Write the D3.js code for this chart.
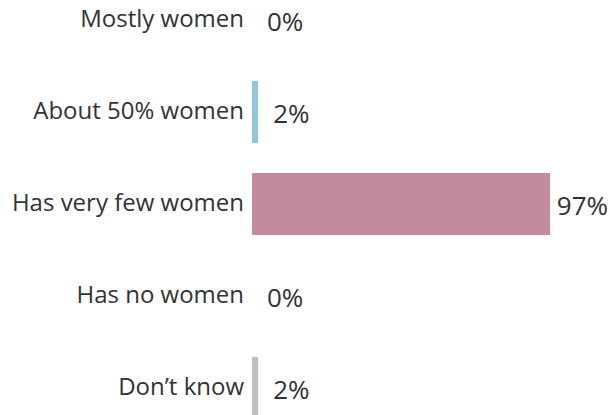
<!DOCTYPE html>
<html>
<head>
<meta charset="utf-8">
<script src="https://cdn.jsdelivr.net/npm/d3@7"></script>
<style>
  html, body { margin: 0; padding: 0; background: #ffffff; }
  svg { display: block; }
  text { font-family: "Open Sans", "Noto Sans", sans-serif; fill: #333333; }
</style>
</head>
<body>
<svg id="chart" width="610" height="415"></svg>
<script>
// Survey answers and their shares (percent)
const categories = ["Mostly women", "About 50% women", "Has very few women", "Has no women", "Don\u2019t know"];
const values = [0, 2, 97, 0, 2];
const colors = ["#92c5de", "#92c5de", "#c48a9d", "#c48a9d", "#bfbfbf"];

const W = 610, H = 415;
const svg = d3.select("#chart");

const x = d3.scaleLinear().domain([0, 100]).range([252, 559.2]);
const y = d3.scaleBand()
  .domain(categories)
  .range([-41, 449])
  .paddingInner(30 / 92)
  .paddingOuter(30 / 92);

const rows = categories.map((c, i) => ({ cat: c, val: values[i], color: colors[i] }));

const g = svg.selectAll("g.row").data(rows).join("g").attr("class", "row");

g.append("rect")
  .attr("x", x(0))
  .attr("y", d => y(d.cat))
  .attr("width", d => x(d.val) - x(0))
  .attr("height", y.bandwidth())
  .attr("fill", d => d.color);

g.append("text")
  .attr("x", x(0) - 8)
  .attr("y", d => y(d.cat) + y.bandwidth() / 2)
  .attr("dy", "0.3em")
  .attr("text-anchor", "end")
  .attr("font-size", 24)
  .text(d => d.cat);

// Value labels sit past the bar end, pulled back if they would leave the frame
g.append("text")
  .attr("class", "val")
  .attr("y", d => y(d.cat) + y.bandwidth() / 2)
  .attr("dy", "0.42em")
  .attr("font-size", 26)
  .text(d => d.val + "%")
  .attr("x", function(d) {
    const w = this.getComputedTextLength();
    return Math.min(x(d.val) + 15, W - w - 2);
  });
</script>
</body>
</html>
